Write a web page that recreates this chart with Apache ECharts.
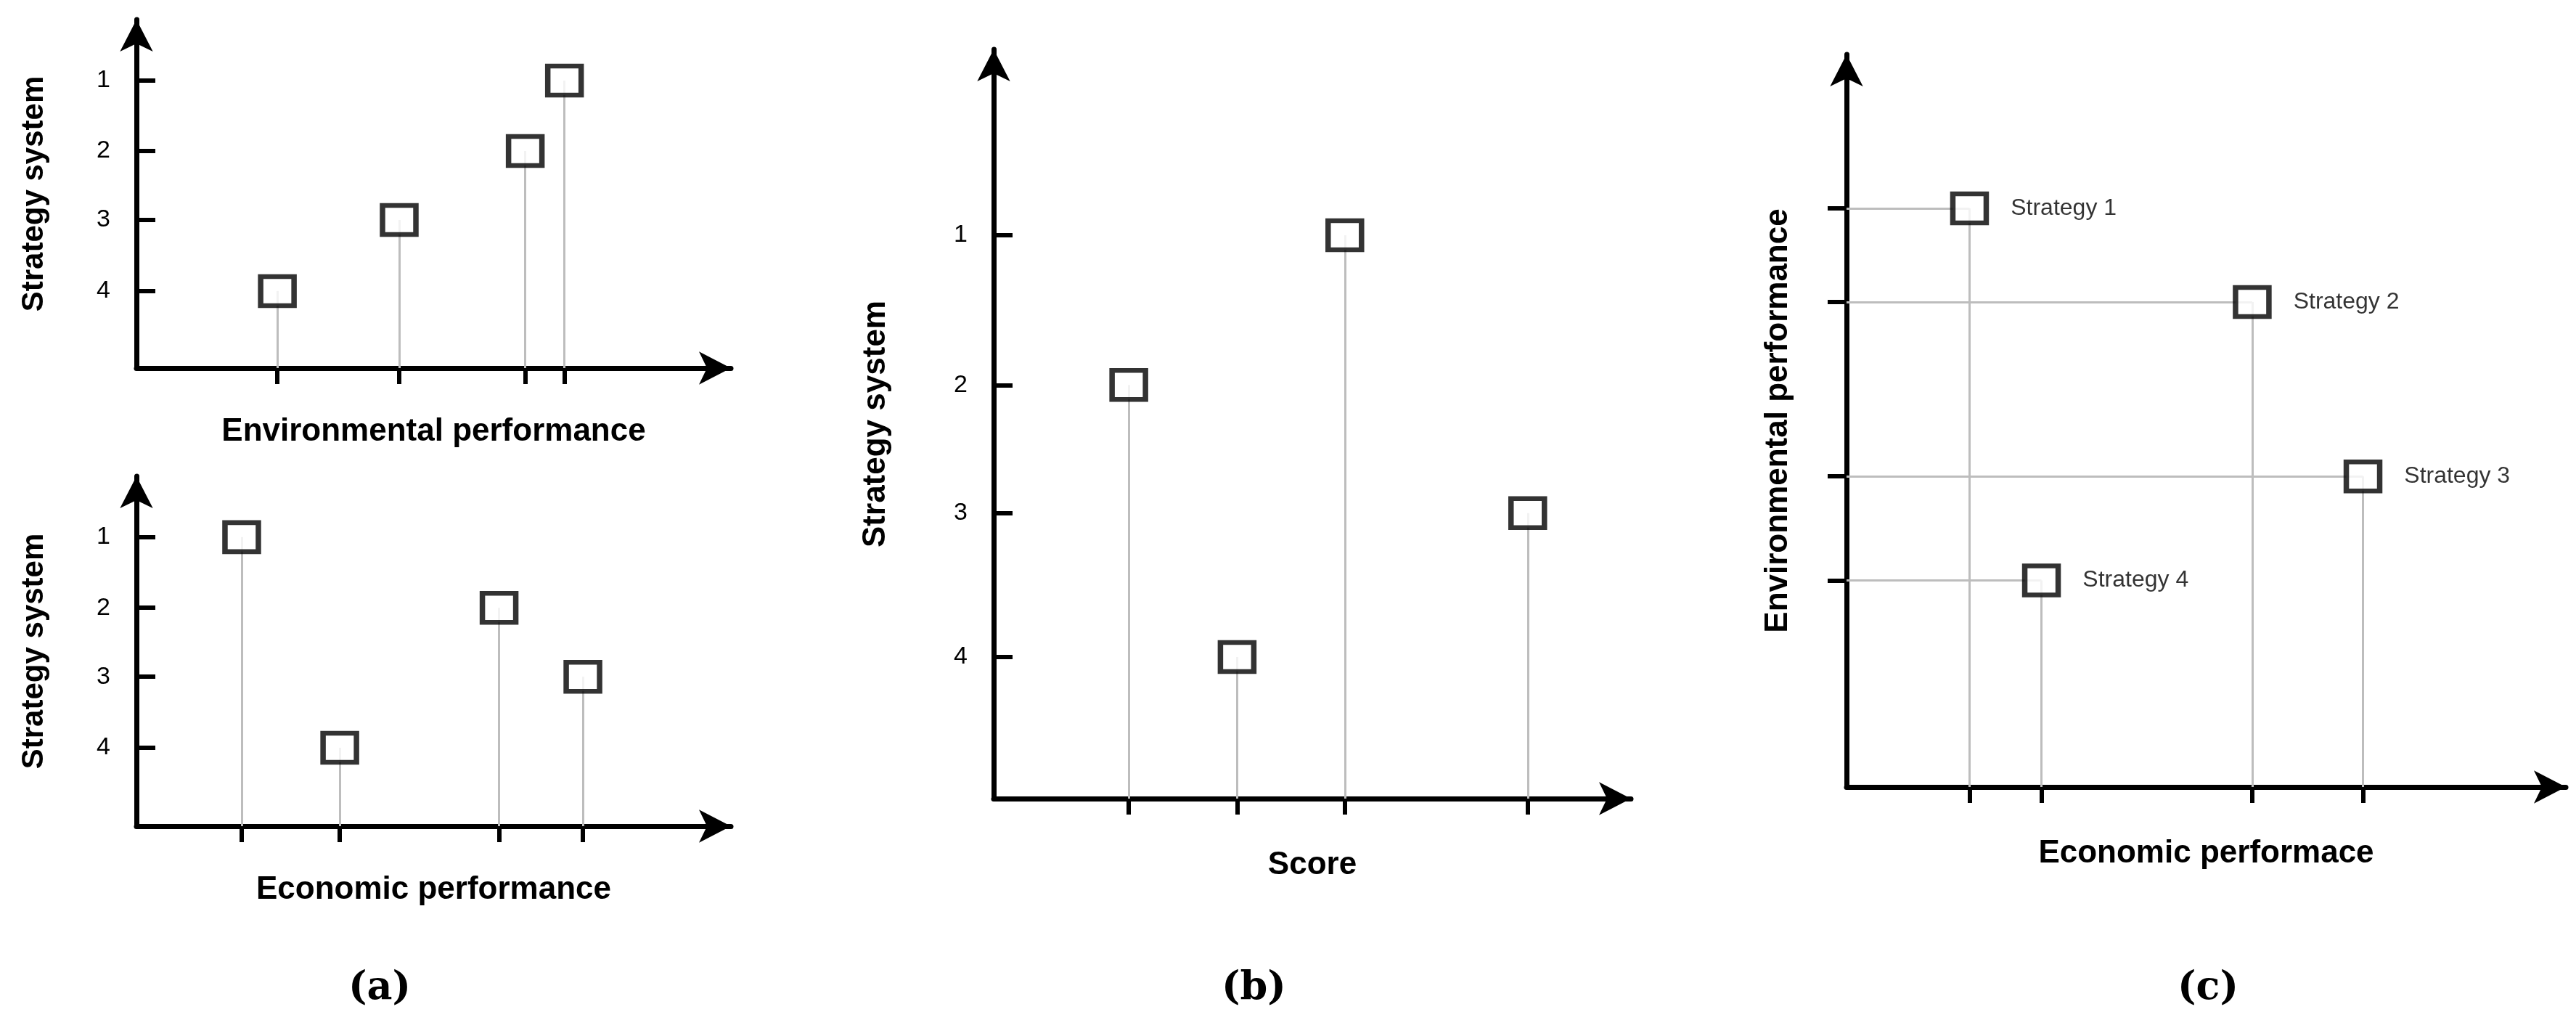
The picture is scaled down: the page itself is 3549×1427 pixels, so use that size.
<!DOCTYPE html>
<html><head><meta charset="utf-8">
<script src="https://cdn.jsdelivr.net/npm/echarts@6/dist/echarts.min.js"></script>
<style>html,body{margin:0;padding:0;background:#fff}#c{width:3549px;height:1427px}</style>
</head><body><div id="c"></div>
<script>
// Panel (a) top: Environmental performance positions (0-100) and strategy ranks
const envX = [23.7, 44.2, 65.4, 72.0];
const envRank = [4, 3, 2, 1];
const envRankPos = [82.5, 62.3, 42.5, 22.1]; // axis position of ranks 1..4
// Panel (a) bottom: Economic performance
const ecoX = [17.7, 34.2, 61.0, 75.1];
const ecoRank = [1, 4, 2, 3];
const ecoRankPos = [82.6, 62.4, 42.7, 22.4];
// Panel (b): Score
const scoreX = [21.2, 38.2, 55.1, 83.8];
const scoreRank = [2, 4, 1, 3];
const scoreRankPos = [75.2, 55.2, 38.1, 18.9];
const rankLabels = ['1', '2', '3', '4'];
// Panel (c)
const stratNames = ['Strategy 1', 'Strategy 2', 'Strategy 3', 'Strategy 4'];
const stratEco = [17.1, 56.4, 71.8, 27.1];
const stratEnv = [79.0, 66.2, 42.4, 28.2];

const FONT = 'Liberation Sans, Arial, sans-serif';
const grids = [
  {left:188, top:27, width:819, height:480},
  {left:188, top:656, width:819, height:482},
  {left:1369, top:68, width:878, height:1032},
  {left:2544, top:75, width:991, height:1009}
];
const axLine = {show:true, lineStyle:{color:'#000', width:7}, symbol:['none','arrow'], symbolSize:[34,44]};
function xAx(i, name, ticks, gap){
  return {type:'value', gridIndex:i, min:0, max:100, name:name, nameLocation:'middle', nameGap:gap,
    nameTextStyle:{fontFamily:FONT, fontWeight:'bold', fontSize:44, color:'#000'},
    axisLine:axLine, splitLine:{show:false},
    axisTick:{show:true, customValues:ticks, length:22, inside:false, lineStyle:{color:'#000', width:6}},
    axisLabel:{show:false}};
}
function yAx(i, name, ticks, labels, gap, showLabels, nameSize){
  return {type:'value', gridIndex:i, min:0, max:100, name:name, nameLocation:'middle', nameGap:gap,
    nameTextStyle:{fontFamily:FONT, fontWeight:'bold', fontSize:nameSize||44, color:'#000'},
    axisLine:axLine, splitLine:{show:false},
    axisTick:{show:true, customValues:ticks, length:26, inside:!(!showLabels), lineStyle:{color:'#000', width:6}},
    axisLabel:{show:!!showLabels, customValues:ticks, margin:36, fontFamily:FONT, fontSize:34, color:'#000',
      formatter:(v)=>{const k=ticks.findIndex(t=>Math.abs(t-v)<1e-6);return k>=0?labels[k]:'';}}};
}
const sq = {symbol:'rect', symbolSize:[46,40], itemStyle:{color:'#fff', borderColor:'#000', borderWidth:7}};
const stem = {color:'#bdbdbd', width:3, type:'solid'};
function stemSeries(i, xs, ys, horiz){
  const lines = [];
  xs.forEach((x,k)=>{
    lines.push([{coord:[x, ys[k]]},{coord:[x,0]}]);
    if(horiz) lines.push([{coord:[x, ys[k]]},{coord:[0, ys[k]]}]);
  });
  return {type:'scatter', xAxisIndex:i, yAxisIndex:i, data:[], silent:true, z:1,
    markLine:{symbol:['none','none'], silent:true, label:{show:false}, lineStyle:stem, data:lines, animation:false}};
}
function pts(i, xs, ys, labels){
  return Object.assign({type:'scatter', xAxisIndex:i, yAxisIndex:i, z:5,
    data: xs.map((x,k)=>labels?{value:[x,ys[k]], name:labels[k]}:[x,ys[k]]),
    label: labels?{show:true, position:'right', distance:30, formatter:'{b}', fontFamily:FONT, fontSize:32, color:'#000'}:{show:false}}, sq);
}
const envY = envRank.map(r=>envRankPos[r-1]);
const ecoY = ecoRank.map(r=>ecoRankPos[r-1]);
const scoreY = scoreRank.map(r=>scoreRankPos[r-1]);

const option = {
  animation:false, backgroundColor:'#fff',
  grid: grids,
  xAxis:[xAx(0,'Environmental performance',envX,66), xAx(1,'Economic performance',ecoX,66),
         xAx(2,'Score',scoreX,70), xAx(3,'Economic performace',stratEco,70)],
  yAxis:[yAx(0,'Strategy system',envRankPos,rankLabels,120,true,42), yAx(1,'Strategy system',ecoRankPos,rankLabels,120,true,42),
         yAx(2,'Strategy system',scoreRankPos,rankLabels,140,true), yAx(3,'Environmental performance',stratEnv,[],72,false)],
  series:[
    stemSeries(0,envX,envY), pts(0,envX,envY),
    stemSeries(1,ecoX,ecoY), pts(1,ecoX,ecoY),
    stemSeries(2,scoreX,scoreY), pts(2,scoreX,scoreY),
    stemSeries(3,stratEco,stratEnv,true), pts(3,stratEco,stratEnv,stratNames)
  ],
  graphic:[
    {type:'text', left:480, top:1335, style:{text:'(a)', font:'bold 54px "DejaVu Serif", serif', fill:'#000'}},
    {type:'text', left:1683, top:1335, style:{text:'(b)', font:'bold 54px "DejaVu Serif", serif', fill:'#000'}},
    {type:'text', left:3000, top:1335, style:{text:'(c)', font:'bold 54px "DejaVu Serif", serif', fill:'#000'}}
  ]
};
echarts.init(document.getElementById('c')).setOption(option);
</script></body></html>
